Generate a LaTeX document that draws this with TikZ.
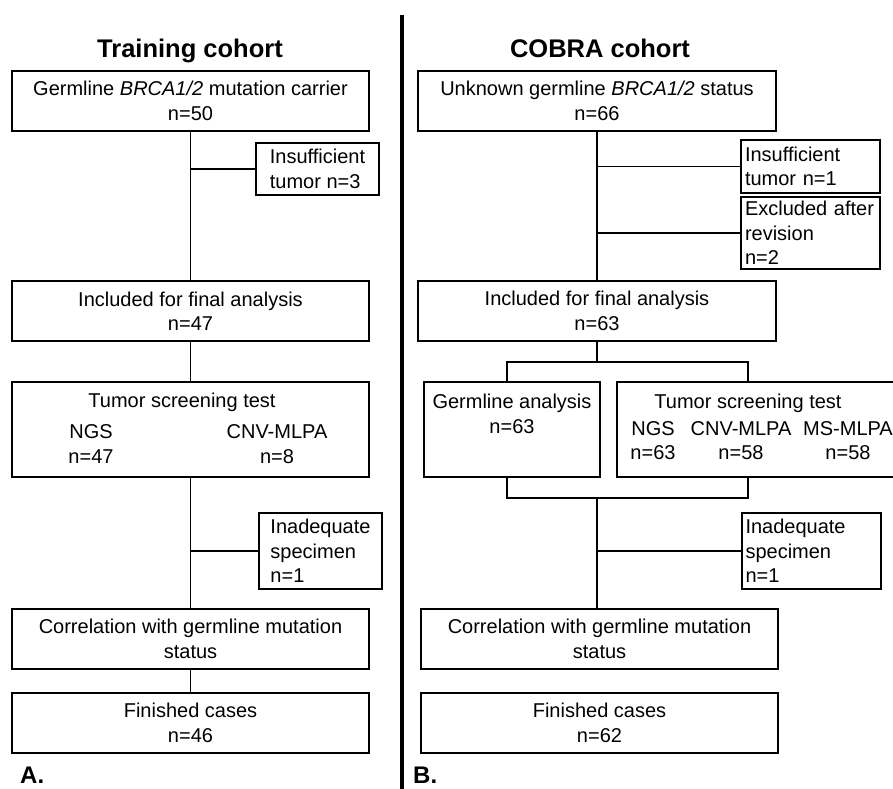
\documentclass[tikz,border=0pt]{standalone}
\usepackage{fontspec}
\setmainfont{Liberation Sans}
\usepackage{tikz}
\usetikzlibrary{positioning, calc}
\tikzset{
	flowbox/.style={
			draw=black,
			line width=2pt,
			fill=white,
			align=center,
			inner sep=0pt,
			minimum width=357pt,
			minimum height=60pt,
			font=\fontsize{20}{24.5}\selectfont
		},
	sidebox/.style={
			flowbox,
			align=left,
			minimum width=123pt
		},
	sideboxwide/.style={
			sidebox,
			text width=131pt,
			inner xsep=4pt,
			minimum width=139pt,
			execute at begin node={\hyphenpenalty=10000}
		},
	tallbox/.style={
			flowbox,
			minimum height=95pt
		},
	boxtext/.style={
			anchor=base,
			inner sep=0pt,
			font=\fontsize{20}{24.5}\selectfont
		},
	cohorttitle/.style={
			anchor=base,
			inner sep=0pt,
			font=\fontsize{25.5}{30}\selectfont\bfseries
		},
	panellabel/.style={
			anchor=base west,
			inner sep=0pt,
			font=\fontsize{24}{28}\selectfont\bfseries
		},
	link/.style={
			draw=black,
			line width=1.7pt
		}
}

\begin{document}
\begin{tikzpicture}[x=1pt, y=-1pt]
\useasboundingbox (0,0) rectangle (893,788);
\fill[white] (0,0) rectangle (893,788);
\clip (0,0) rectangle (893,788);

% training cohort
\node[cohorttitle] (aTitle) at (190,57) {Training cohort};
\node[flowbox] (aStart) at (190.5,101) {Germline \textit{BRCA1/2} mutation carrier\\n=50};
\node[sidebox, minimum height=52pt] (aInsuf) at (317.5,169) {Insufficient\\tumor n=3};
\node[flowbox] (aIncl) at (190.5,311) {Included for final analysis\\n=47};
\node[tallbox] (aScreen) at (190.5,429.5) {};
\node[boxtext] (aScreenT) at (182,407) {Tumor screening test};
\node[boxtext] (aNgs) at (91,438) {NGS};
\node[boxtext] (aNgsN) at (91,463) {n=47};
\node[boxtext] (aCnv) at (277,438) {CNV-MLPA};
\node[boxtext] (aCnvN) at (277,463) {n=8};
\node[sidebox, minimum height=76pt] (aInad) at (320.5,551) {Inadequate\\specimen\\n=1};
\node[flowbox] (aCorr) at (190.5,639) {Correlation with germline mutation\\status};
\node[flowbox] (aDone) at (190.5,723) {Finished cases\\n=46};
\node[panellabel] (aLabel) at (20,783) {A.};

\draw[link] (aStart) -- (aIncl);
\draw[link] (aInsuf.west) -- (aInsuf.west -| aStart.south);
\draw[link] (aIncl) -- (aScreen);
\draw[link] (aScreen) -- (aCorr);
\draw[link] (aInad.west) -- (aInad.west -| aScreen.south);
\draw[link] (aCorr) -- (aDone);

% divider
\coordinate (divTop) at (402,15);
\coordinate (divBot) at (402,790);
\draw[line width=3.5pt] (divTop) -- (divBot);

% COBRA cohort
\node[cohorttitle] (bTitle) at (600,57) {COBRA cohort};
\node[flowbox, minimum width=358pt] (bStart) at (597,101) {Unknown germline \textit{BRCA1/2} status\\n=66};
\node[sideboxwide, minimum height=53pt] (bInsuf) at (810.5,166.5) {Insufficient\\tumor n=1};
\node[sideboxwide, minimum height=72pt] (bExcl) at (810.5,233) {Excluded after\\revision\\n=2};
\node[flowbox, minimum width=358pt] (bIncl) at (597,311) {Included for final analysis\\n=63};
\node[tallbox, minimum width=176pt] (bGerm) at (512,429.5) {};
\node[boxtext] (bGermT) at (512,408) {Germline analysis};
\node[boxtext] (bGermN) at (512,433) {n=63};
\node[tallbox, minimum width=288pt] (bScreen) at (761,429.5) {};
\node[boxtext] (bScreenT) at (748,408) {Tumor screening test};
\node[boxtext] (bNgs) at (653,435) {NGS};
\node[boxtext] (bNgsN) at (653,459) {n=63};
\node[boxtext] (bCnv) at (741,435) {CNV-MLPA};
\node[boxtext] (bCnvN) at (741,459) {n=58};
\node[boxtext] (bMs) at (848,435) {MS-MLPA};
\node[boxtext] (bMsN) at (848,459) {n=58};
\coordinate (bSplit) at (597,362);
\coordinate (bJoin) at (597,498);
\node[sideboxwide, minimum height=76pt] (bInad) at (811,551) {Inadequate\\specimen\\n=1};
\node[flowbox] (bCorr) at (599.5,639) {Correlation with germline mutation\\status};
\node[flowbox] (bDone) at (599.5,723) {Finished cases\\n=62};
\node[panellabel] (bLabel) at (413,783) {B.};

\draw[link] (bStart) -- (bIncl);
\draw[link] (bInsuf.west) -- (bInsuf.west -| bStart.south);
\draw[link] (bExcl.west) -- (bExcl.west -| bStart.south);
\draw[link] (bIncl.south) -- (bSplit);
\draw[link] ([xshift=-5pt]bGerm.north) |- (bSplit) -| ([xshift=-13pt]bScreen.north);
\draw[link] ([xshift=-5pt]bGerm.south) |- (bJoin) -| ([xshift=-13pt]bScreen.south);
\draw[link] (bJoin) -- (bJoin |- bCorr.north);
\draw[link] (bInad.west) -- (bInad.west -| bJoin);

\end{tikzpicture}
\end{document}
